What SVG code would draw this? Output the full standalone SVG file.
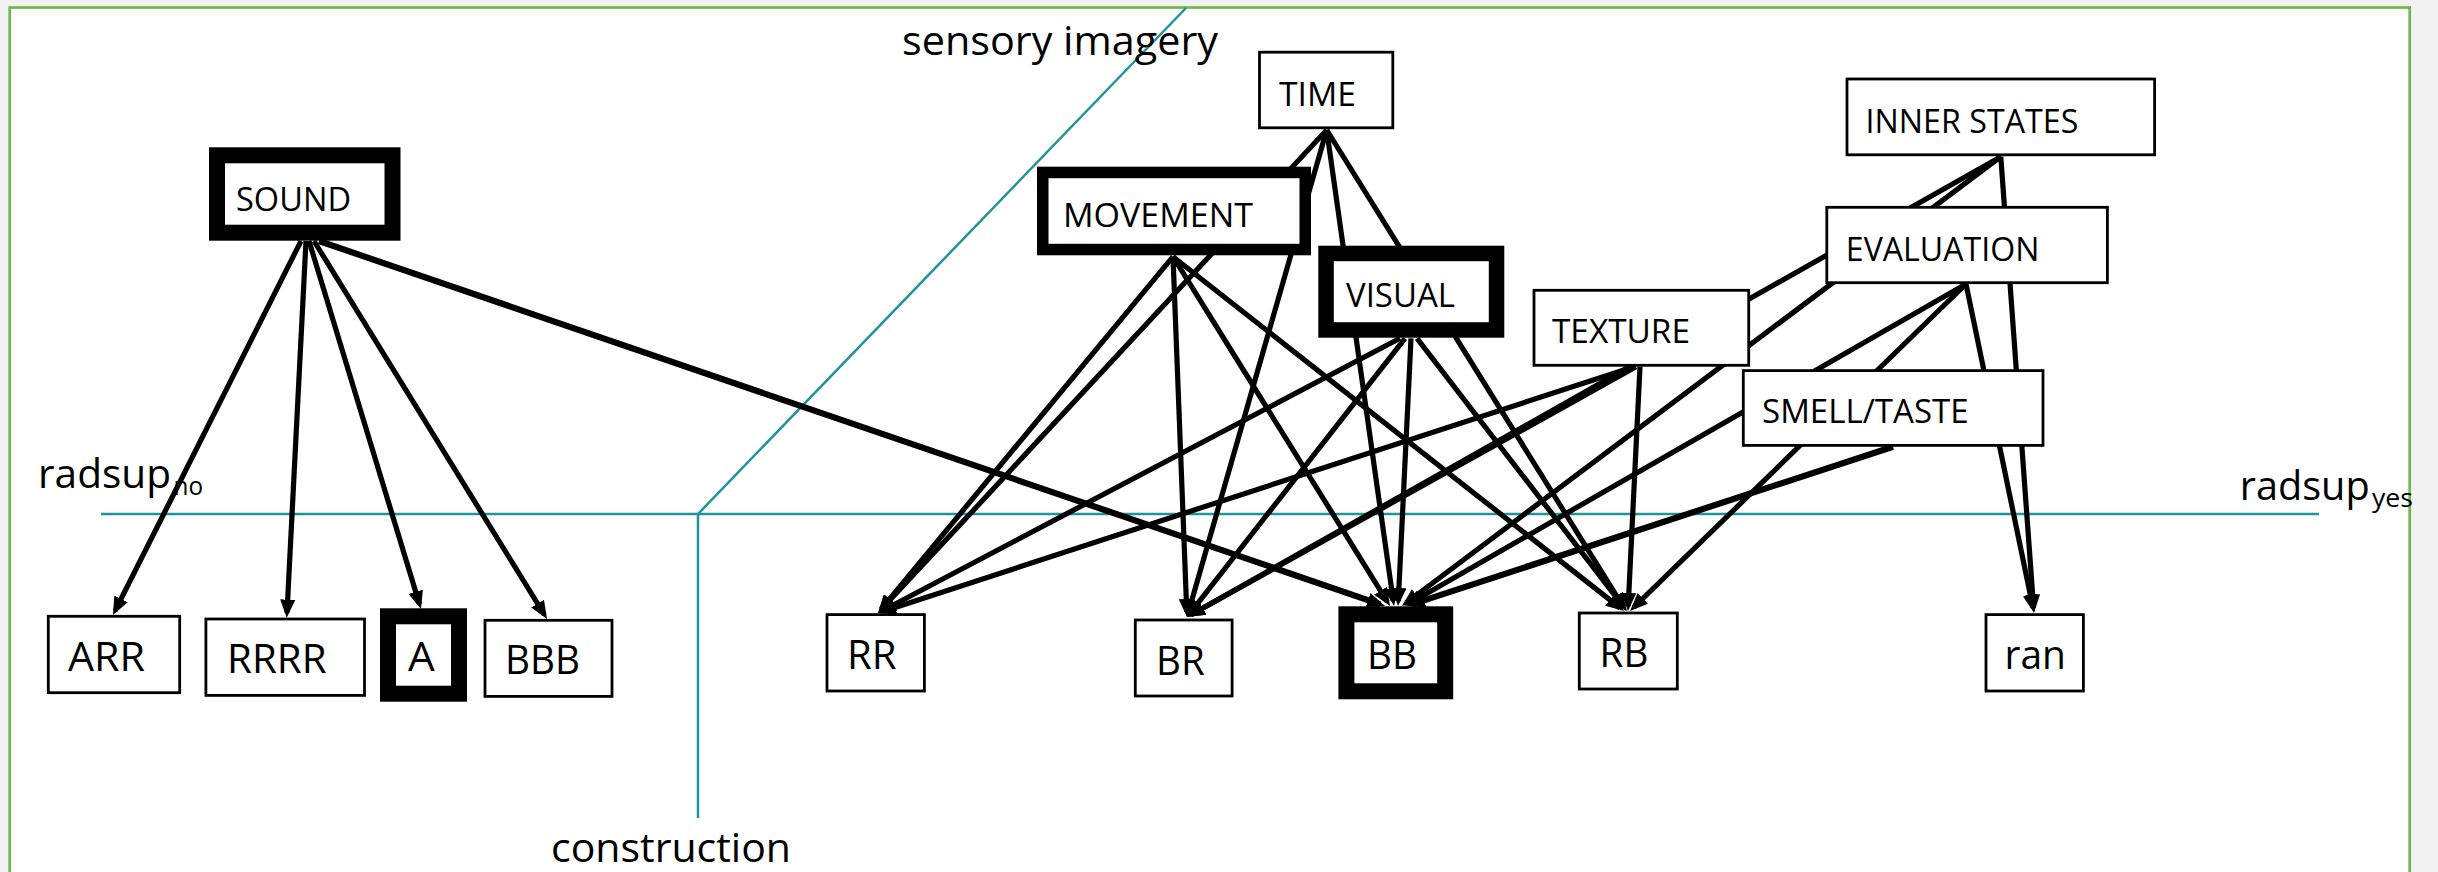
<svg xmlns="http://www.w3.org/2000/svg" width="2438" height="872" viewBox="0 0 2438 872">
  <style>
    .box { fill: #ffffff; stroke: #000000; stroke-width: 2.8; }
    .thick { fill: #ffffff; stroke: #000000; }
    .lbl { font-family: "Open Sans", "Liberation Sans", sans-serif; fill: #000000; }
    .top { font-size: 32px; }
    .bot { font-size: 40px; }
    .big { font-size: 40px; }
    .sub { font-size: 26px; }
    .edge { stroke: #000000; stroke-width: 5.2; fill: none; marker-end: url(#arrow); }
    .heavy { stroke-width: 6.2; }
    .guide { stroke: #20949a; stroke-width: 2.5; fill: none; }
  </style>
  <defs>
    <marker id="arrow" viewBox="0 0 18 15" refX="13" refY="7.5" markerWidth="18" markerHeight="15" markerUnits="userSpaceOnUse" orient="auto">
      <path d="M0,0 L18,7.5 L0,15 z" fill="#000000"/>
    </marker>
  </defs>

  <!-- page background and framed panel -->
  <rect x="0" y="0" width="2438" height="872" fill="#f2f2f2"/>
  <rect x="9.7" y="7.5" width="2400" height="880" fill="#ffffff" stroke="#71b84b" stroke-width="2.7"/>

  <!-- quadrant guides -->
  <g id="guides">
    <line class="guide" x1="101" y1="514" x2="2319" y2="514"/>
    <line class="guide" x1="698" y1="514" x2="698" y2="818"/>
    <line class="guide" x1="698" y1="514" x2="1186" y2="8"/>
  </g>

  <!-- axis labels -->
  <g id="axis-labels">
    <text class="lbl big" x="902" y="55" textLength="316" lengthAdjust="spacingAndGlyphs">sensory imagery</text>
    <text class="lbl big" x="551" y="861.7" textLength="240" lengthAdjust="spacingAndGlyphs">construction</text>
    <text class="lbl big" x="38" y="488.3" textLength="133" lengthAdjust="spacingAndGlyphs">radsup</text>
    <text class="lbl sub" x="173.5" y="495" textLength="29.5" lengthAdjust="spacingAndGlyphs">no</text>
    <text class="lbl big" x="2239.7" y="500" textLength="130" lengthAdjust="spacingAndGlyphs">radsup</text>
    <text class="lbl sub" x="2372" y="507.3" textLength="41" lengthAdjust="spacingAndGlyphs">yes</text>
  </g>

  <!-- connectors -->
  <g id="connectors">
    <!-- SOUND -->
    <line class="edge" x1="301" y1="241" x2="115.2" y2="610.5"/>
    <line class="edge" x1="306" y1="241" x2="287.0" y2="612.7"/>
    <line class="edge" x1="309" y1="241" x2="419.5" y2="604.2"/>
    <line class="edge" x1="314" y1="241" x2="544.4" y2="614.7"/>
    <line class="edge heavy" x1="319" y1="241" x2="1380.3" y2="604.4"/>
    <!-- TIME -->
    <line class="edge" x1="1326.7" y1="130" x2="881.4" y2="609.3"/>
    <line class="edge" x1="1326.7" y1="130" x2="1188.4" y2="612.2"/>
    <line class="edge" x1="1326.7" y1="130" x2="1393.3" y2="601.0"/>
    <line class="edge" x1="1326.7" y1="130" x2="1623.4" y2="606.8"/>
    <!-- MOVEMENT -->
    <line class="edge" x1="1173" y1="256.7" x2="881.2" y2="609.1"/>
    <line class="edge" x1="1173" y1="256.7" x2="1186.8" y2="612.0"/>
    <line class="edge" x1="1173" y1="256.7" x2="1387.4" y2="601.8"/>
    <line class="edge" x1="1173" y1="256.7" x2="1620.1" y2="607.9"/>
    <!-- VISUAL -->
    <line class="edge" x1="1400" y1="338.3" x2="882.4" y2="610.7"/>
    <line class="edge" x1="1405" y1="338.3" x2="1190.1" y2="613.1"/>
    <line class="edge" x1="1411" y1="338.3" x2="1398.3" y2="601.0"/>
    <line class="edge" x1="1417" y1="338.3" x2="1623.9" y2="607.1"/>
    <!-- TEXTURE -->
    <line class="edge" x1="1634" y1="366.7" x2="882.8" y2="611.5"/>
    <line class="edge" x1="1636" y1="366.7" x2="1191.4" y2="614.6"/>
    <line class="edge" x1="1640" y1="366.7" x2="1628.2" y2="606.0"/>
    <!-- INNER STATES -->
    <line class="edge" x1="2000.8" y1="156.7" x2="1191.4" y2="614.5"/>
    <line class="edge" x1="2000.8" y1="156.7" x2="1406" y2="603"/>
    <line class="edge" x1="2000.8" y1="156.7" x2="2033.6" y2="607.7"/>
    <!-- EVALUATION -->
    <line class="edge" x1="1966" y1="284" x2="1409.3" y2="603.5"/>
    <line class="edge" x1="1966" y1="284" x2="1633.6" y2="607.5"/>
    <line class="edge" x1="1966" y1="284" x2="2033" y2="607.8"/>
    <!-- SMELL/TASTE -->
    <line class="edge heavy" x1="1893" y1="446.7" x2="1411.8" y2="604.4"/>
  </g>

  <!-- upper nodes -->
  <g id="node-sound">
    <rect class="thick" x="217" y="155.3" width="175.5" height="77.4" stroke-width="16"/>
    <text class="lbl top" x="236" y="210.7" textLength="115" lengthAdjust="spacingAndGlyphs">SOUND</text>
  </g>
  <g id="node-time">
    <rect class="box" x="1259.5" y="52.2" width="133.3" height="75.6"/>
    <text class="lbl top" x="1279" y="106" textLength="77" lengthAdjust="spacingAndGlyphs">TIME</text>
  </g>
  <g id="node-movement">
    <rect class="thick" x="1042.75" y="172.45" width="262.5" height="77.1" stroke-width="11.5"/>
    <text class="lbl top" x="1063" y="226.7" textLength="190" lengthAdjust="spacingAndGlyphs">MOVEMENT</text>
  </g>
  <g id="node-visual">
    <rect class="thick" x="1326.05" y="253.45" width="170.5" height="76.5" stroke-width="15.5"/>
    <text class="lbl top" x="1346" y="307.3" textLength="109" lengthAdjust="spacingAndGlyphs">VISUAL</text>
  </g>
  <g id="node-texture">
    <rect class="box" x="1534" y="290.3" width="214.7" height="75"/>
    <text class="lbl top" x="1552" y="343.3" textLength="138" lengthAdjust="spacingAndGlyphs">TEXTURE</text>
  </g>
  <g id="node-inner-states">
    <rect class="box" x="1847" y="79" width="307.6" height="75.8"/>
    <text class="lbl top" x="1865.6" y="133.3" textLength="212.7" lengthAdjust="spacingAndGlyphs">INNER STATES</text>
  </g>
  <g id="node-evaluation">
    <rect class="box" x="1826.8" y="207.3" width="280.6" height="75.4"/>
    <text class="lbl top" x="1845.8" y="260.7" textLength="193.5" lengthAdjust="spacingAndGlyphs">EVALUATION</text>
  </g>
  <g id="node-smell-taste">
    <rect class="box" x="1743.3" y="370.6" width="299.7" height="74.8"/>
    <text class="lbl top" x="1762" y="423.3" textLength="206.7" lengthAdjust="spacingAndGlyphs">SMELL/TASTE</text>
  </g>

  <!-- lower nodes -->
  <g id="node-arr">
    <rect class="box" x="48.3" y="616.3" width="131.4" height="76.4"/>
    <text class="lbl bot" x="68" y="670.7" textLength="77" lengthAdjust="spacingAndGlyphs">ARR</text>
  </g>
  <g id="node-rrrr">
    <rect class="box" x="205.9" y="619" width="158.6" height="76.4"/>
    <text class="lbl bot" x="227" y="672.7" textLength="99.5" lengthAdjust="spacingAndGlyphs">RRRR</text>
  </g>
  <g id="node-a">
    <rect class="thick" x="388" y="616.3" width="71" height="77.4" stroke-width="16"/>
    <text class="lbl bot" x="408" y="670.7" textLength="26.7" lengthAdjust="spacingAndGlyphs">A</text>
  </g>
  <g id="node-bbb">
    <rect class="box" x="485" y="620.3" width="127" height="76.1"/>
    <text class="lbl bot" x="505" y="674" textLength="75" lengthAdjust="spacingAndGlyphs">BBB</text>
  </g>
  <g id="node-rr">
    <rect class="box" x="827" y="614.6" width="97.4" height="76.4"/>
    <text class="lbl bot" x="847" y="669.3" textLength="49.5" lengthAdjust="spacingAndGlyphs">RR</text>
  </g>
  <g id="node-br">
    <rect class="box" x="1135.3" y="620" width="96.8" height="76"/>
    <text class="lbl bot" x="1156" y="675" textLength="48.7" lengthAdjust="spacingAndGlyphs">BR</text>
  </g>
  <g id="node-bb">
    <rect class="thick" x="1346.4" y="614.3" width="98.8" height="77" stroke-width="16"/>
    <text class="lbl bot" x="1367" y="669.3" textLength="50" lengthAdjust="spacingAndGlyphs">BB</text>
  </g>
  <g id="node-rb">
    <rect class="box" x="1579.3" y="613" width="98" height="76"/>
    <text class="lbl bot" x="1599.6" y="666.7" textLength="48.8" lengthAdjust="spacingAndGlyphs">RB</text>
  </g>
  <g id="node-ran">
    <rect class="box" x="1986" y="614.6" width="97.4" height="76.4"/>
    <text class="lbl bot" x="2004.6" y="669.3" textLength="61.4" lengthAdjust="spacingAndGlyphs">ran</text>
  </g>
</svg>
